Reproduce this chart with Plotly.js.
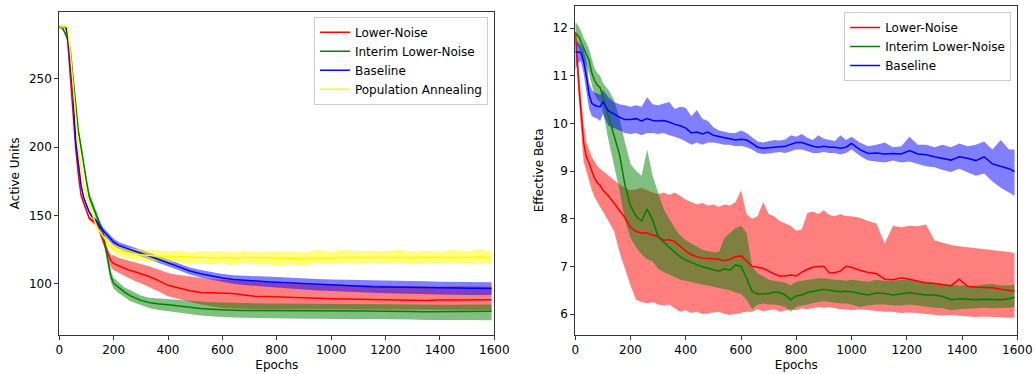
<!DOCTYPE html>
<html>
<head>
<meta charset="utf-8">
<script src="https://cdn.plot.ly/plotly-3.0.1.min.js"></script>
<style>html,body{margin:0;padding:0;background:#fff;}#chart{width:1036px;height:374px;}</style>
</head>
<body>
<div id="chart"></div>
<script>
// ---------- Left panel: Active Units ----------
const xL = [0,10,20,25,30,40,50,60,70,80,90,100,110,120,130,140,150,160,170,180,190,200,220,240,260,280,300,330,360,400,440,480,520,560,600,640,680,720,760,800,850,900,950,1000,1050,1100,1150,1200,1250,1300,1350,1400,1450,1500,1550,1590];

const redL    = [288,288,288,288,280,252,230,200,180,165,159,154,148,146.5,145,143.5,138,132,127,122,117,115,113,111.5,110,109,107.5,105.5,103,99,97,95,93.7,93.5,93.5,93,92,91,90.8,90.5,89.8,89.5,89.5,89.2,89,89,88.8,88.5,88.7,88.3,88,88.2,88.5,88.3,88.5,88.5];
const redLlo  = [287.5,287.5,287.5,287,279,250,228,198,178,163.5,157.5,152.5,146.5,145,143.5,141.5,135.5,129,124,118,112,110,108,106,104,102,100.5,98,95,91,89,87,85,83.5,82.5,82,81.8,81.6,81.5,81.5,81.5,81.4,81.6,81.5,81.5,81.3,81.5,81.4,81.5,81.2,81.3,81,81.2,81.1,81,81];
const redLhi  = [288.5,288.5,288.5,289,281,254,232,202,182,166.5,160.5,155.5,149.5,148,146.5,145.5,140.5,135,130,125,121,121,119,118,117,116,115,113,111,108,106.5,105.5,104,103.5,103,102.8,102,101.5,101,100.5,100.2,100,99.8,99.5,99.4,99.2,99,98.5,98.6,98.3,98.2,98,98.4,98.1,98.3,98];

const greenL   = [288,287.5,284,282,279,272,252,230,212,200,186,175,164,158.5,153.5,148,143,138,127,115,105.3,100.5,97,94,91.5,89.5,88,86.5,85.5,84.8,83.8,82.8,82,81.5,81,80.8,80.6,80.6,80.5,80.5,80.4,80.3,80.4,80.3,80.2,80.1,80.2,80,80.1,79.9,79.7,79.8,80,80,79.8,80];
const greenLlo = [287,286,282.5,280.5,277.5,270.5,250,228,210,198,184,172.5,161,155.5,150.5,145,140,134.5,123,111,101.5,96.5,93,90.5,87.5,85.8,84.5,82.5,81.2,80,79,78,77,76.3,75.8,75.5,75.2,75,74.8,74.8,74.6,74.5,74.6,74.4,74.5,74.3,74.4,74.2,74.3,74,73.6,73.5,73.7,73.6,73.4,73.5];
const greenLhi = [289,289,285.5,283.5,280.5,273.5,254,232,214,202,188,177.5,167,161.5,156.5,151,146,141.5,131,119,109,104.5,101,97.5,95.5,93.2,91.5,90,89.5,89,88.3,87.5,86.8,86.6,86.5,86.2,86,85.9,85.8,85.7,85.6,85.5,85.6,85.5,85.4,85.3,85.4,85.2,85.3,85,84.8,84.8,84.9,85,84.8,85];

const blueL    = [288,288,288,287,283,262,240,205,188,172,163,157,152.5,149.5,147,145,141.5,139,137,135,132.5,130.5,128,126.5,125,124,122.5,120.5,118.5,115.5,112.5,109.5,107.5,105.8,104.3,103.3,102.6,102,101.7,101.3,100.8,100.2,99.5,99,98.7,98.3,98,97.8,97.6,97.5,97.3,97,96.9,96.8,96.6,96.6];
const blueLlo  = [287.5,287.5,287.5,286,282,261,239,204,187,171,162,156,151.5,148.5,145.5,143,139,136.5,134.5,132.5,130,128,125.5,124,122.5,121.5,120,118,116,113,110,107,104.8,103,101.5,100.2,99.3,98.5,98,97.5,96.8,96.2,95.3,94.8,94.3,93.8,93.5,93.2,93,92.8,92.6,92.3,92.2,92,91.9,92];
const blueLhi  = [288.5,288.5,288.5,288,284,263,241,206,189,173,164,158,153.5,150.5,148.5,147,144,141.5,139.5,137.5,135,133,130.5,129,127.5,126.5,125,123,121,118,115,112,110.2,108.6,107.2,106.4,105.9,105.5,105.4,105.1,104.8,104.2,103.7,103.2,103.1,102.8,102.5,102.4,102.2,102.2,102,101.7,101.6,101.6,101.3,101.2];

const yellowL   = [288,288,288,288,288,270,248,228,200,185,172,165,158,151,146,141,138,135,132,129.5,127.5,126,124,123,122.5,121.8,121.3,120.8,120.5,120.2,119.8,119.5,119.6,119.2,119.3,119,119.4,119.2,118.9,119.1,118.9,118.7,119.2,119,119.5,119.3,119.6,119.4,119.6,119.2,119.5,119.3,119.6,119.4,119.7,119.2];
const yellowLlo = [287.5,287.5,287.5,287.5,287,269,247,227,199,184,171,164,157,150,145,139.5,136.5,133,130,127,125,123,120.5,119,118.5,117,117.5,116,117,115.5,116,114.5,115.5,114,115,113.5,115,114,114.5,113,114.5,113.5,115,114,115.5,114,115,114.5,115.5,114,115,114.5,115.5,114,115,114.5];
const yellowLhi = [288.5,288.5,288.5,288.5,289,271,249,229,201,186,173,166,159,152,147,142.5,139.5,137,134,132,130,129,127.5,127,126,125.5,126,124.5,125,124,124.5,123,124,123.5,124,123,124.5,123,124,123.5,124,123,125,123.5,125,124,124.5,124,125,123.5,124.5,123.5,125,124,125.5,124];

// ---------- Right panel: Effective Beta ----------
const xR = [0,5,10,15,20,30,40,50,60,70,80,90,100,120,140,160,180,200,220,240,260,280,300,320,340,360,380,400,420,440,460,480,500,520,540,560,580,600,620,640,660,680,700,720,740,760,780,800,820,840,860,880,900,920,940,960,980,1000,1030,1060,1090,1120,1150,1180,1210,1240,1270,1300,1330,1360,1390,1420,1450,1480,1510,1540,1570,1590];

const redR   = [11.92,11.4,11.0,10.63,10.3,9.6,9.3,9.17,9.0,8.85,8.75,8.7,8.6,8.48,8.33,8.18,8.02,7.82,7.73,7.7,7.7,7.66,7.62,7.55,7.56,7.52,7.41,7.32,7.25,7.2,7.17,7.17,7.16,7.15,7.12,7.15,7.2,7.22,7.1,7.0,6.98,6.96,6.9,6.84,6.8,6.8,6.82,6.8,6.88,6.94,6.98,7.0,7.0,6.86,6.87,6.9,7.0,6.98,6.92,6.87,6.85,6.73,6.72,6.76,6.73,6.69,6.65,6.64,6.62,6.59,6.73,6.58,6.56,6.56,6.55,6.52,6.5,6.48];
const redRhi = [11.95,11.6,11.3,11.0,10.7,10.0,9.6,9.45,9.3,9.2,9.1,9.05,9.0,8.9,8.82,8.72,8.65,8.6,8.62,8.65,8.6,8.55,8.52,8.55,8.5,8.55,8.48,8.4,8.35,8.3,8.33,8.28,8.3,8.25,8.3,8.28,8.35,8.6,8.1,8.0,8.05,8.35,8.1,8.05,7.95,7.9,7.85,7.75,7.78,8.12,8.15,8.1,8.18,8.08,8.05,8.1,8.05,8.05,8.02,7.95,7.9,7.48,7.85,7.82,7.85,7.84,7.88,7.55,7.5,7.45,7.42,7.4,7.38,7.36,7.35,7.33,7.3,7.28];
const redRlo = [11.85,11.2,10.75,10.3,9.95,9.2,8.95,8.8,8.6,8.45,8.35,8.25,8.15,7.95,7.75,7.3,6.95,6.6,6.3,6.25,6.22,6.25,6.2,6.18,6.2,6.12,6.05,6.08,6.02,6.05,6.0,6.02,6.03,6.05,6.0,5.98,6.0,6.03,6.05,6.05,6.1,6.06,6.08,6.1,6.05,6.08,6.1,6.08,6.12,6.1,6.12,6.15,6.13,6.15,6.12,6.1,6.1,6.08,6.1,6.08,6.07,6.05,6.05,6.02,6.03,6.02,6.0,5.98,5.97,5.98,5.96,5.95,5.94,5.95,5.94,5.93,5.92,5.93];

const greenR   = [11.9,11.87,11.84,11.8,11.72,11.58,11.45,11.32,11.05,10.9,10.8,10.75,10.55,10.15,9.8,9.35,8.7,8.27,8.05,7.95,8.2,7.97,7.62,7.5,7.4,7.3,7.2,7.13,7.08,7.03,6.99,6.96,6.93,6.9,6.95,6.92,7.03,7.0,6.75,6.48,6.42,6.43,6.43,6.46,6.45,6.4,6.3,6.38,6.4,6.45,6.47,6.5,6.52,6.5,6.48,6.47,6.48,6.47,6.43,6.4,6.44,6.43,6.4,6.42,6.45,6.42,6.4,6.4,6.37,6.3,6.32,6.31,6.3,6.31,6.31,6.3,6.32,6.35];
const greenRhi = [12.1,12.1,12.05,12.0,11.95,11.8,11.7,11.55,11.35,11.15,11.05,11.0,10.85,10.7,10.5,10.1,9.6,9.15,9.0,8.9,9.45,8.9,8.55,8.2,8.0,7.8,7.65,7.55,7.48,7.42,7.35,7.32,7.3,7.3,7.6,7.7,7.8,7.85,7.7,7.0,6.85,6.8,6.72,6.7,6.68,6.66,6.6,6.68,6.7,6.72,6.73,6.75,6.75,6.73,6.72,6.72,6.7,6.72,6.7,6.68,6.72,6.7,6.7,6.72,6.73,6.7,6.68,6.66,6.64,6.62,6.6,6.6,6.6,6.62,6.63,6.6,6.6,6.62];
const greenRlo = [11.7,11.65,11.6,11.55,11.5,11.35,11.2,11.05,10.8,10.6,10.5,10.45,10.25,9.65,9.1,8.6,7.95,7.6,7.4,7.25,7.15,7.1,6.95,6.88,6.83,6.78,6.72,6.7,6.68,6.65,6.62,6.6,6.58,6.55,6.52,6.5,6.45,6.42,6.3,6.1,6.2,6.22,6.2,6.2,6.18,6.15,6.05,6.15,6.18,6.2,6.22,6.25,6.27,6.25,6.24,6.22,6.22,6.2,6.15,6.18,6.2,6.2,6.18,6.18,6.2,6.18,6.15,6.13,6.12,6.08,6.1,6.12,6.12,6.13,6.12,6.12,6.13,6.15];

const blueR   = [11.5,11.5,11.5,11.5,11.48,11.3,11.0,10.6,10.42,10.38,10.36,10.35,10.45,10.26,10.2,10.13,10.08,10.08,10.1,10.05,10.1,10.06,10.05,10.06,10.03,9.98,9.95,9.9,9.8,9.82,9.78,9.82,9.75,9.72,9.7,9.68,9.65,9.67,9.65,9.58,9.5,9.48,9.49,9.5,9.52,9.52,9.56,9.6,9.6,9.56,9.52,9.5,9.52,9.5,9.5,9.48,9.5,9.58,9.45,9.37,9.38,9.36,9.37,9.36,9.43,9.36,9.34,9.3,9.27,9.23,9.3,9.27,9.22,9.3,9.15,9.1,9.05,8.99];
const blueRhi = [11.7,11.72,11.7,11.68,11.65,11.55,11.3,10.85,10.7,10.65,10.62,10.6,10.7,10.55,10.45,10.4,10.38,10.35,10.38,10.35,10.55,10.4,10.38,10.42,10.45,10.3,10.35,10.33,10.15,10.28,10.1,10.05,9.92,9.85,9.82,9.8,9.8,9.85,9.8,9.7,9.62,9.6,9.62,9.65,9.64,9.66,9.75,9.72,9.78,9.7,9.65,9.75,9.68,9.65,9.63,9.75,9.65,9.72,9.6,9.52,9.55,9.6,9.5,9.52,9.72,9.55,9.55,9.5,9.55,9.5,9.58,9.52,9.55,9.62,9.45,9.65,9.45,9.45];
const blueRlo = [11.1,11.2,11.25,11.3,11.3,11.05,10.7,10.3,10.15,10.12,10.1,10.05,10.2,9.95,9.9,9.85,9.8,9.78,9.8,9.75,9.8,9.8,9.78,9.8,9.75,9.72,9.68,9.62,9.55,9.6,9.55,9.6,9.6,9.58,9.55,9.55,9.52,9.53,9.5,9.45,9.38,9.36,9.37,9.38,9.4,9.38,9.42,9.45,9.45,9.42,9.38,9.38,9.4,9.38,9.38,9.35,9.38,9.45,9.32,9.22,9.2,9.18,9.22,9.18,9.2,9.15,9.1,9.08,9.02,8.98,9.05,8.98,8.9,8.95,8.78,8.65,8.55,8.48];

const leftNames = ["Lower-Noise","Interim Lower-Noise","Baseline","Population Annealing"];
const rightNames = ["Lower-Noise","Interim Lower-Noise","Baseline"];
const xTicks = [0,200,400,600,800,1000,1200,1400,1600];
const yTicksL = [100,150,200,250];
const yTicksR = [6,7,8,9,10,11,12];

// ---------- build traces ----------
const colors = ["#ff0000","#008000","#0000ff","#ffff00"];
const fills  = ["rgba(255,0,0,0.5)","rgba(0,128,0,0.5)","rgba(0,0,255,0.5)","rgba(255,255,0,0.5)"];

function band(x, lo, hi, i, xa, ya) {
  return {x: x.concat(x.slice().reverse()), y: hi.concat(lo.slice().reverse()),
    type: "scatter", mode: "lines", fill: "toself", fillcolor: fills[i],
    line: {width: 0, color: fills[i]}, hoverinfo: "skip", showlegend: false,
    xaxis: xa, yaxis: ya};
}
function line(x, y, i, name, xa, ya, lg) {
  return {x: x, y: y, type: "scatter", mode: "lines", name: name,
    line: {color: colors[i], width: 1.5}, xaxis: xa, yaxis: ya, legend: lg};
}

const L = [[redL,redLlo,redLhi],[greenL,greenLlo,greenLhi],[blueL,blueLlo,blueLhi],[yellowL,yellowLlo,yellowLhi]];
const R = [[redR,redRlo,redRhi],[greenR,greenRlo,greenRhi],[blueR,blueRlo,blueRhi]];

const traces = [];
L.forEach((s,i) => traces.push(band(xL, s[1], s[2], i, "x", "y")));
R.forEach((s,i) => traces.push(band(xR, s[1], s[2], i, "x2", "y2")));
L.forEach((s,i) => traces.push(line(xL, s[0], i, leftNames[i], "x", "y", "legend")));
R.forEach((s,i) => traces.push(line(xR, s[0], i, rightNames[i], "x2", "y2", "legend2")));

const font = {family: "DejaVu Sans, sans-serif", size: 12, color: "#000"};
const axBase = {showline: true, mirror: true, linecolor: "#333", linewidth: 1, ticks: "outside",
  ticklen: 4, tickwidth: 1, tickcolor: "#333", showgrid: false, zeroline: false,
  tickfont: font, automargin: false};

const layout = {
  width: 1036, height: 374, margin: {l: 0, r: 0, t: 0, b: 0},
  paper_bgcolor: "#fff", plot_bgcolor: "#fff", font: font,
  xaxis: Object.assign({}, axBase, {domain: [0.05724, 0.47712], range: [0, 1600], tickvals: xTicks,
    title: {text: "Epochs", font: font, standoff: 4}, anchor: "y"}),
  yaxis: Object.assign({}, axBase, {domain: [0.10428, 0.96872], range: [62.7, 299], tickvals: yTicksL,
    title: {text: "Active Units", font: font, standoff: 6}, anchor: "x"}),
  xaxis2: Object.assign({}, axBase, {domain: [0.55531, 0.98195], range: [0, 1600], tickvals: xTicks,
    title: {text: "Epochs", font: font, standoff: 4}, anchor: "y2"}),
  yaxis2: Object.assign({}, axBase, {domain: [0.10428, 0.98476], range: [5.56, 12.47], tickvals: yTicksR,
    title: {text: "Effective Beta", font: font, standoff: 6}, anchor: "x2"}),
  legend: {x: 0.471, y: 0.955, xanchor: "right", yanchor: "top", bgcolor: "rgba(255,255,255,0.8)",
    bordercolor: "#ccc", borderwidth: 1, font: font, tracegroupgap: 0},
  legend2: {x: 0.976, y: 0.968, xanchor: "right", yanchor: "top", bgcolor: "rgba(255,255,255,0.8)",
    bordercolor: "#ccc", borderwidth: 1, font: font, tracegroupgap: 0},
  showlegend: true
};

Plotly.newPlot("chart", traces, layout, {staticPlot: true, displayModeBar: false});
</script>
</body>
</html>
